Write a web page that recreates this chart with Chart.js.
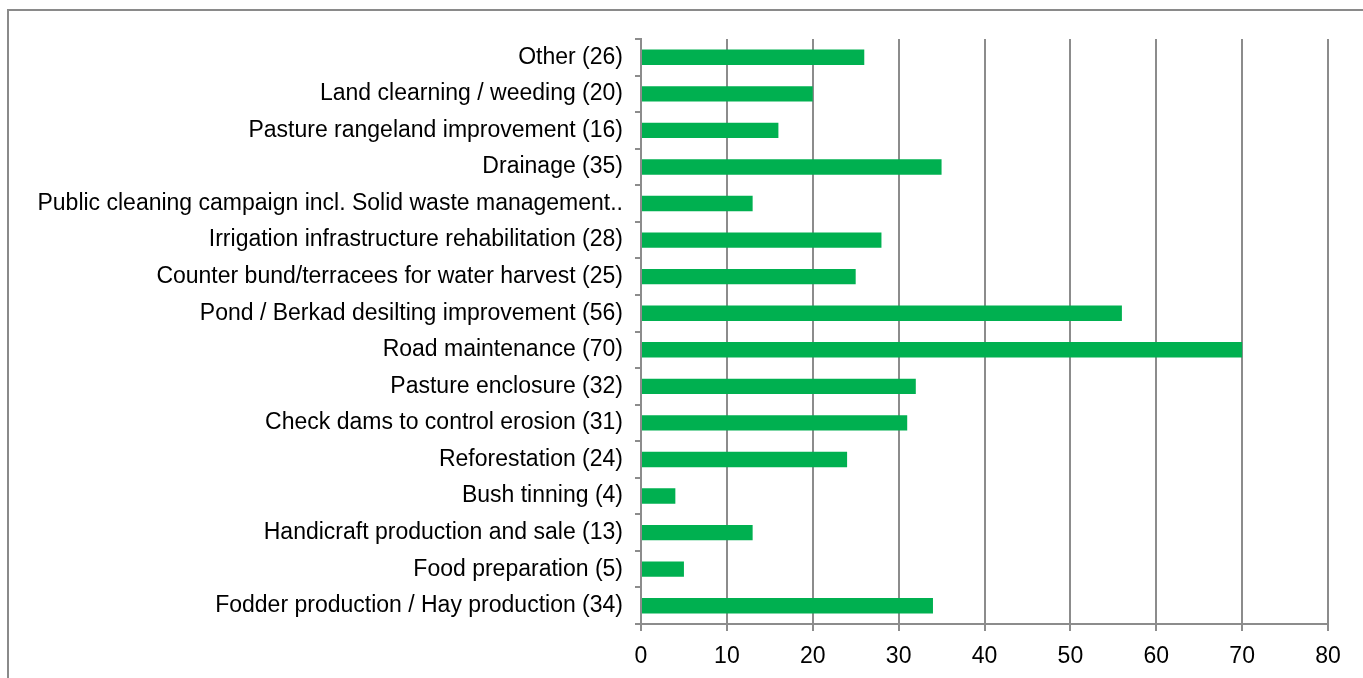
<!DOCTYPE html>
<html>
<head>
<meta charset="utf-8">
<script src="https://cdn.jsdelivr.net/npm/chart.js@4/dist/chart.umd.min.js"></script>
<style>
  html, body { margin: 0; padding: 0; background: #fff; overflow: hidden; }
  #wrap { position: relative; width: 1363px; height: 678px; }
  #frame {
    position: absolute; left: 7px; top: 9px; width: 1400px; height: 700px;
    border: 2px solid #8a8a8a; box-sizing: border-box;
  }
  canvas { position: absolute; left: 0; top: 0; }
</style>
</head>
<body>
<div id="wrap">
  <div id="frame"></div>
  <canvas id="myChart" width="1363" height="678"></canvas>
</div>
<script>
// categories, top to bottom as shown
const categories = [
  "Other (26)",
  "Land clearning / weeding (20)",
  "Pasture rangeland improvement (16)",
  "Drainage (35)",
  "Public cleaning campaign incl. Solid waste management..",
  "Irrigation infrastructure rehabilitation (28)",
  "Counter bund/terracees for water harvest (25)",
  "Pond / Berkad desilting improvement (56)",
  "Road maintenance (70)",
  "Pasture enclosure (32)",
  "Check dams to control erosion (31)",
  "Reforestation (24)",
  "Bush tinning (4)",
  "Handicraft production and sale (13)",
  "Food preparation (5)",
  "Fodder production / Hay production (34)",
];

const counts = [26, 20, 16, 35, 13, 28, 25, 56, 70, 32, 31, 24, 4, 13, 5, 34];

const xTicks = [0, 10, 20, 30, 40, 50, 60, 70, 80];

const barColor = "#00b050";
const gridColor = "#8c8c8c";

new Chart("myChart", {
  type: "bar",
  data: {
    labels: categories,
    datasets: [
      {
        data: counts,
        backgroundColor: barColor,
        borderWidth: 0,
        barPercentage: 0.42,
        categoryPercentage: 1,
      },
    ],
  },
  options: {
    indexAxis: "y",
    responsive: false,
    animation: false,
    layout: {
      padding: { top: 39, right: 35, left: 0, bottom: 0 },
    },
    scales: {
      x: {
        min: 0,
        max: 80,
        afterBuildTicks: (scale) => {
          scale.ticks = xTicks.map((v) => ({ value: v }));
        },
        afterFit: (scale) => {
          scale.height = 54;
        },
        grid: {
          color: gridColor,
          lineWidth: 2,
          tickLength: 7,
        },
        border: { color: gridColor, width: 2 },
        ticks: {
          color: "#000",
          padding: 12,
          font: { family: "Liberation Sans, Arial", size: 23 },
        },
      },
      y: {
        afterFit: (scale) => {
          scale.width = 641;
        },
        grid: {
          drawOnChartArea: false,
          color: gridColor,
          lineWidth: 2,
          tickLength: 6,
        },
        border: { color: gridColor, width: 2 },
        ticks: {
          color: "#000",
          padding: 12,
          autoSkip: false,
          font: { family: "Liberation Sans, Arial", size: 23 },
        },
      },
    },
    plugins: {
      legend: { display: false },
      tooltip: { enabled: false },
    },
  },
});
</script>
</body>
</html>
